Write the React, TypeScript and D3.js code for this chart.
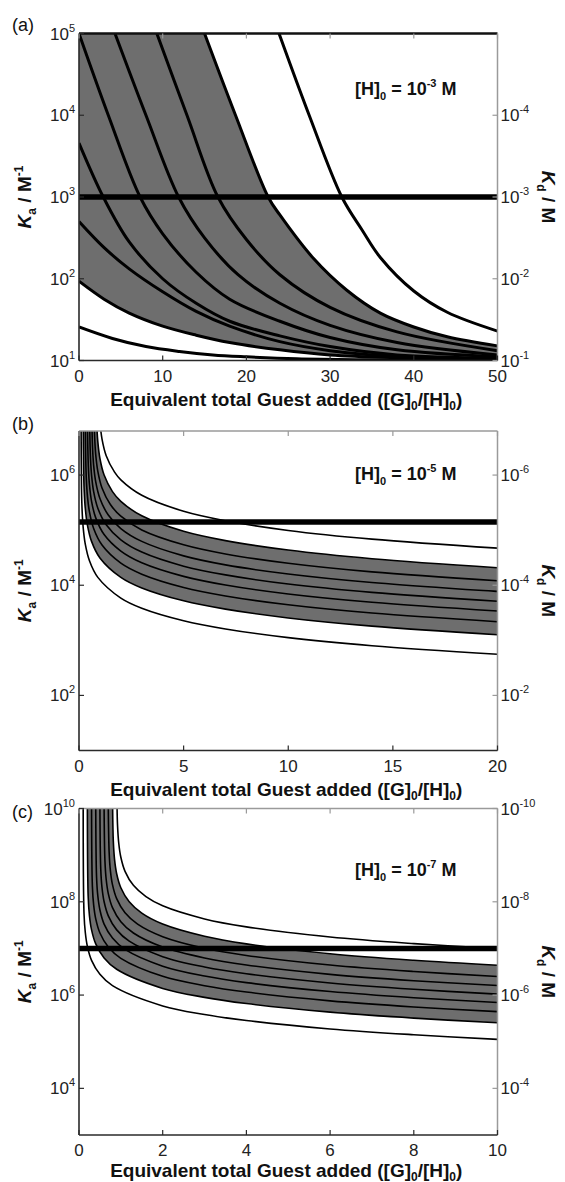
import React from 'react';
import * as d3 from 'd3';

type Pt = [number, number];

const FONT = "'Liberation Sans', Arial, Helvetica, sans-serif";
const PL = 79;
const PR = 497.5;

// ---------------- Panel (a): [H]0 = 1e-3 M ----------------
const aXTicks = [0, 10, 20, 30, 40, 50];
const aKaExp = [1, 2, 3, 4, 5];
const aKdExp = [-1, -2, -3, -4];
const aRefKa = 1e3;
const aW0: Pt[] = [[0, 25.7], [4, 18.6], [8, 14.8], [12, 12.9], [16, 11.7], [20, 11.1], [26, 10.5], [34, 10.2], [42, 10.07], [50, 10]];
const aGb: Pt[] = [[0, 93.3], [3, 56.2], [6, 38.0], [10, 26.3], [14, 20.4], [18, 16.6], [24, 13.5], [30, 11.7], [38, 10.8], [50, 10.2]];
const aL1: Pt[] = [[0, 501], [3, 240], [6, 132], [10, 69.2], [14, 39.8], [18, 26.3], [24, 17.0], [30, 13.2], [38, 11.2], [50, 10.5]];
const aL2: Pt[] = [[0, 4570], [2.9, 1000], [6, 282], [10, 100], [14, 50.1], [18, 30.2], [24, 20.0], [30, 14.8], [38, 11.7], [50, 10.7]];
const aL3: Pt[] = [[0, 1e5], [3.5, 1e4], [7.3, 1000], [10, 355], [14, 120], [18, 56.2], [24, 30.2], [30, 19.1], [38, 13.5], [50, 11.1]];
const aL4: Pt[] = [[4.3, 1e5], [8, 1e4], [11.9, 1000], [15, 316], [19, 112], [24, 50.1], [30, 26.9], [38, 16.6], [50, 11.7]];
const aL5: Pt[] = [[9.3, 1e5], [12.9, 1e4], [16.6, 1000], [20, 302], [24, 112], [30, 44.7], [38, 22.4], [50, 13.2]];
const aGt: Pt[] = [[15, 1e5], [18.7, 1e4], [22.6, 1000], [24, 603], [28, 178], [32, 72.4], [36, 38.0], [40, 25.7], [44, 19.5], [50, 15.1]];
const aW1: Pt[] = [[23.9, 1e5], [27.5, 1e4], [31.4, 1000], [33.8, 398], [36, 182], [40, 70.8], [44, 38.9], [50, 22.9]];

// ---------------- Panel (b): [H]0 = 1e-5 M ----------------
const bXTicks = [0, 5, 10, 15, 20];
const bKaExp = [2, 4, 6];
const bKdExp = [-2, -4, -6];
const bRefKa = 1.4e5;
const bP1: Pt[] = [[0.1, 1e7], [0.12, 5.56e5], [0.15, 2.22e5], [0.2, 1.11e5], [0.3, 5.56e4], [0.5, 2.78e4], [0.9, 1.39e4], [2, 5850], [3, 3830], [5, 2270], [7, 1610], [10, 1120], [14, 799], [20, 558]];
const bP2: Pt[] = [[0.2, 1e7], [0.22, 1.25e6], [0.25, 5e5], [0.3, 2.5e5], [0.4, 1.25e5], [0.6, 6.25e4], [1.0, 3.13e4], [2, 1.39e4], [3, 8930], [5, 5210], [7, 3680], [10, 2550], [14, 1810], [20, 1260]];
const bP3: Pt[] = [[0.3, 1e7], [0.32, 2.14e6], [0.35, 8.57e5], [0.4, 4.29e5], [0.5, 2.14e5], [0.7, 1.07e5], [1.1, 5.36e4], [2, 2.52e4], [3, 1.59e4], [5, 9120], [7, 6400], [10, 4420], [14, 3130], [20, 2180]];
const bP4: Pt[] = [[0.4, 1e7], [0.42, 3.33e6], [0.45, 1.33e6], [0.5, 6.67e5], [0.6, 3.33e5], [0.8, 1.67e5], [1.2, 8.33e4], [2, 4.17e4], [3, 2.56e4], [5, 1.45e4], [7, 1.01e4], [10, 6940], [14, 4900], [20, 3400]];
const bP5: Pt[] = [[0.51, 1e7], [0.52, 5e6], [0.55, 2e6], [0.6, 1e6], [0.7, 5e5], [0.9, 2.5e5], [1.3, 1.25e5], [2, 6.67e4], [3, 4e4], [5, 2.22e4], [7, 1.54e4], [10, 1.05e4], [14, 7410], [20, 5130]];
const bP6: Pt[] = [[0.615, 1e7], [0.62, 7.5e6], [0.65, 3e6], [0.7, 1.5e6], [0.8, 7.5e5], [1.0, 3.75e5], [1.4, 1.88e5], [2, 1.07e5], [3, 6.25e4], [5, 3.41e4], [7, 2.34e4], [10, 1.6e4], [14, 1.12e4], [20, 7730]];
const bP7: Pt[] = [[0.723, 1e7], [0.75, 4.67e6], [0.8, 2.33e6], [0.9, 1.17e6], [1.1, 5.83e5], [1.5, 2.92e5], [2, 1.79e5], [3, 1.01e5], [5, 5.43e4], [7, 3.7e4], [10, 2.51e4], [14, 1.75e4], [20, 1.21e4]];
const bP8: Pt[] = [[0.84, 1e7], [0.85, 8e6], [0.9, 4e6], [1.0, 2e6], [1.2, 1e6], [1.6, 5e5], [2, 3.33e5], [3, 1.82e5], [5, 9.52e4], [7, 6.45e4], [10, 4.35e4], [14, 3.03e4], [20, 2.08e4]];
const bP9: Pt[] = [[0.99, 1e7], [1.0, 9e6], [1.1, 4.5e6], [1.3, 2.25e6], [1.7, 1.13e6], [2, 8.18e5], [3, 4.29e5], [5, 2.2e5], [7, 1.48e5], [10, 9.89e4], [14, 6.87e4], [20, 4.71e4]];

// ---------------- Panel (c): [H]0 = 1e-7 M ----------------
const cXTicks = [0, 2, 4, 6, 8, 10];
const cKaExp = [4, 6, 8, 10];
const cKdExp = [-4, -6, -8, -10];
const cRefKa = 1e7;
const cP1: Pt[] = [[0.1, 1e10], [0.12, 5.56e7], [0.15, 2.22e7], [0.2, 1.11e7], [0.3, 5.56e6], [0.5, 2.78e6], [0.8, 1.59e6], [2, 5.85e5], [3, 3.83e5], [4, 2.85e5], [6, 1.88e5], [8, 1.41e5], [10, 1.12e5]];
const cP2: Pt[] = [[0.2, 1e10], [0.22, 1.25e8], [0.25, 5e7], [0.3, 2.5e7], [0.4, 1.25e7], [0.6, 6.25e6], [0.9, 3.57e6], [2, 1.39e6], [3, 8.93e5], [4, 6.58e5], [6, 4.31e5], [8, 3.21e5], [10, 2.55e5]];
const cP3: Pt[] = [[0.3, 1e10], [0.32, 2.14e8], [0.35, 8.57e7], [0.4, 4.29e7], [0.5, 2.14e7], [0.7, 1.07e7], [1.0, 6.12e6], [2, 2.52e6], [3, 1.59e6], [4, 1.16e6], [6, 7.52e5], [8, 5.57e5], [10, 4.42e5]];
const cP4: Pt[] = [[0.4, 1e10], [0.42, 3.33e8], [0.45, 1.33e8], [0.5, 6.67e7], [0.6, 3.33e7], [0.8, 1.67e7], [1.1, 9.52e6], [2, 4.17e6], [3, 2.56e6], [4, 1.85e6], [6, 1.19e6], [8, 8.77e5], [10, 6.94e5]];
const cP5: Pt[] = [[0.5, 1e10], [0.52, 5e8], [0.55, 2e8], [0.6, 1e8], [0.7, 5e7], [0.9, 2.5e7], [1.2, 1.43e7], [2, 6.67e6], [3, 4e6], [4, 2.86e6], [6, 1.82e6], [8, 1.33e6], [10, 1.05e6]];
const cP6: Pt[] = [[0.6, 1e10], [0.62, 7.5e8], [0.65, 3e8], [0.7, 1.5e8], [0.8, 7.5e7], [1.0, 3.75e7], [1.3, 2.14e7], [2, 1.07e7], [3, 6.25e6], [4, 4.41e6], [6, 2.78e6], [8, 2.03e6], [10, 1.6e6]];
const cP7: Pt[] = [[0.7, 1e10], [0.72, 1.17e9], [0.75, 4.67e8], [0.8, 2.33e8], [0.9, 1.17e8], [1.1, 5.83e7], [1.4, 3.33e7], [2, 1.79e7], [3, 1.01e7], [4, 7.07e6], [6, 4.4e6], [8, 3.2e6], [10, 2.51e6]];
const cP8: Pt[] = [[0.804, 1e10], [0.82, 2e9], [0.85, 8e8], [0.9, 4e8], [1.0, 2e8], [1.2, 1e8], [1.5, 5.71e7], [2, 3.33e7], [3, 1.82e7], [4, 1.25e7], [6, 7.69e6], [8, 5.56e6], [10, 4.35e6]];
const cP9: Pt[] = [[0.91, 1e10], [0.92, 4.5e9], [0.95, 1.8e9], [1.0, 9e8], [1.1, 4.5e8], [1.3, 2.25e8], [1.6, 1.29e8], [2, 8.18e7], [3, 4.29e7], [4, 2.9e7], [6, 1.76e7], [8, 1.27e7], [10, 9.89e6]];

interface PanelProps {
  id: string;
  top: number;
  bottom: number;
  xMax: number;
  xTicks: number[];
  yMin: number;
  yMax: number;
  kaExp: number[];
  kdExp: number[];
  curves: Pt[][];
  lower: Pt[];
  upper: Pt[];
  closeCorner: boolean;
  refKa: number;
  lw: number;
  letter: string;
  letterY: number;
  hExp: string;
  hY: number;
  topColor: string;
  topWidth: number;
  xLabelY: number;
}

function Panel(p: PanelProps) {
  const x = d3.scaleLinear().domain([0, p.xMax]).range([PL, PR]);
  const y = d3.scaleLog().domain([p.yMin, p.yMax]).range([p.bottom, p.top]);
  const line = d3
    .line<Pt>()
    .x((d) => x(d[0]))
    .y((d) => y(d[1]))
    .curve(d3.curveCatmullRom.alpha(0.5));
  const lowerPath = line(p.lower) || '';
  const upperRev = (line(p.upper.slice().reverse()) || '').slice(1);
  const corner = p.closeCorner ? `L${x(0)},${y(p.yMax)}` : '';
  const band = `${lowerPath}L${upperRev}${corner}Z`;
  const midY = (p.top + p.bottom) / 2;
  const clipId = `clip-${p.id}`;
  const axisDark = '#2a2a2a';
  const axisLight = '#9a9a9a';
  const tk = 5;
  return (
    <g>
      <defs>
        <clipPath id={clipId}>
          <rect x={PL} y={p.top} width={PR - PL} height={p.bottom - p.top} />
        </clipPath>
      </defs>
      <rect x={PL} y={p.top} width={PR - PL} height={p.bottom - p.top} fill="#ffffff" />
      <g clipPath={`url(#${clipId})`}>
        <path d={band} fill="#6e6e6e" stroke="none" />
        {p.curves.map((c, i) => (
          <path key={i} d={line(c) || ''} fill="none" stroke="#000" strokeWidth={p.lw} />
        ))}
        <line x1={PL} x2={PR} y1={y(p.refKa)} y2={y(p.refKa)} stroke="#000" strokeWidth={5.5} />
      </g>
      {/* frame */}
      <line x1={PL} x2={PR} y1={p.top} y2={p.top} stroke={p.topColor} strokeWidth={p.topWidth} />
      <line x1={PR} x2={PR} y1={p.top} y2={p.bottom} stroke={axisLight} strokeWidth={1.5} />
      <line x1={PL} x2={PR} y1={p.bottom} y2={p.bottom} stroke={axisDark} strokeWidth={1.6} />
      <line x1={PL} x2={PL} y1={p.top} y2={p.bottom} stroke={axisDark} strokeWidth={1.6} />
      {/* x ticks */}
      {p.xTicks.map((t) => (
        <g key={`xt${t}`}>
          <line x1={x(t)} x2={x(t)} y1={p.bottom} y2={p.bottom - tk} stroke={axisDark} strokeWidth={1.2} />
          <line x1={x(t)} x2={x(t)} y1={p.top} y2={p.top + tk} stroke={axisLight} strokeWidth={1.2} />
          <text x={x(t)} y={p.bottom + 21} textAnchor="middle" fontSize={17} fontFamily={FONT} fill="#222">
            {t}
          </text>
        </g>
      ))}
      {/* left Ka ticks */}
      {p.kaExp.map((e) => (
        <g key={`ka${e}`}>
          <line x1={PL} x2={PL + tk} y1={y(Math.pow(10, e))} y2={y(Math.pow(10, e))} stroke={axisDark} strokeWidth={1.2} />
          <text x={PL - 4} y={y(Math.pow(10, e)) + 6} textAnchor="end" fontSize={17} fontFamily={FONT} fill="#222">
            <tspan>10</tspan>
            <tspan dy={-8} fontSize={11}>{e}</tspan>
          </text>
        </g>
      ))}
      {/* right Kd ticks */}
      {p.kdExp.map((e) => (
        <g key={`kd${e}`}>
          <line x1={PR} x2={PR - tk} y1={y(Math.pow(10, -e))} y2={y(Math.pow(10, -e))} stroke={axisLight} strokeWidth={1.2} />
          <text x={PR + 3} y={y(Math.pow(10, -e)) + 6} textAnchor="start" fontSize={17} fontFamily={FONT} fill="#222">
            <tspan>10</tspan>
            <tspan dy={-8} fontSize={11}>{`${e}`}</tspan>
          </text>
        </g>
      ))}
      {/* x axis label */}
      <text x={(PL + PR) / 2 - 2} y={p.xLabelY} textAnchor="middle" fontSize={19} fontWeight="bold" fontFamily={FONT} fill="#111">
        <tspan>Equivalent total Guest added ([G]</tspan>
        <tspan dy={4} fontSize={12}>0</tspan>
        <tspan dy={-4}>/[H]</tspan>
        <tspan dy={4} fontSize={12}>0</tspan>
        <tspan dy={-4}>)</tspan>
      </text>
      {/* left y label */}
      <text transform={`translate(31,${midY}) rotate(-90)`} textAnchor="middle" fontSize={19} fontWeight="bold" fontFamily={FONT} fill="#111">
        <tspan fontStyle="italic">K</tspan>
        <tspan dy={5} fontSize={12}>a</tspan>
        <tspan dy={-5}> / M</tspan>
        <tspan dy={-8} fontSize={12}>-1</tspan>
      </text>
      {/* right y label */}
      <text transform={`translate(542,${midY}) rotate(90)`} textAnchor="middle" fontSize={19} fontWeight="bold" fontFamily={FONT} fill="#111">
        <tspan fontStyle="italic">K</tspan>
        <tspan dy={5} fontSize={12}>d</tspan>
        <tspan dy={-5}> / M</tspan>
      </text>
      {/* panel letter */}
      <text x={12} y={p.letterY} fontSize={18} fontFamily={FONT} fill="#111">
        {p.letter}
      </text>
      {/* concentration annotation */}
      <text x={355} y={p.hY} fontSize={18} fontWeight="bold" fontFamily={FONT} fill="#111">
        <tspan>[H]</tspan>
        <tspan dy={5} fontSize={11}>0</tspan>
        <tspan dy={-5}> = 10</tspan>
        <tspan dy={-8} fontSize={11}>{p.hExp}</tspan>
        <tspan dy={8}> M</tspan>
      </text>
    </g>
  );
}

export default function App() {
  return (
    <svg
      width={565}
      height={1182}
      viewBox="0 0 565 1182"
      style={{ position: 'absolute', left: 0, top: 0, background: '#fff' }}
    >
      <rect x={0} y={0} width={565} height={1182} fill="#fff" />
      <Panel
        id="a"
        top={33.5}
        bottom={360.5}
        xMax={50}
        xTicks={aXTicks}
        yMin={10}
        yMax={1e5}
        kaExp={aKaExp}
        kdExp={aKdExp}
        curves={[aW0, aGb, aL1, aL2, aL3, aL4, aL5, aGt, aW1]}
        lower={aGb}
        upper={aGt}
        closeCorner={true}
        refKa={aRefKa}
        lw={3}
        letter="(a)"
        letterY={31}
        hExp="-3"
        hY={95}
        topColor="#111"
        topWidth={2.5}
        xLabelY={406}
      />
      <Panel
        id="b"
        top={431}
        bottom={750.5}
        xMax={20}
        xTicks={bXTicks}
        yMin={10}
        yMax={Math.pow(10, 6.8)}
        kaExp={bKaExp}
        kdExp={bKdExp}
        curves={[bP1, bP2, bP3, bP4, bP5, bP6, bP7, bP8, bP9]}
        lower={bP2}
        upper={bP8}
        closeCorner={false}
        refKa={bRefKa}
        lw={1.6}
        letter="(b)"
        letterY={430}
        hExp="-5"
        hY={480}
        topColor="#9a9a9a"
        topWidth={1.5}
        xLabelY={796}
      />
      <Panel
        id="c"
        top={808.5}
        bottom={1135}
        xMax={10}
        xTicks={cXTicks}
        yMin={1e3}
        yMax={1e10}
        kaExp={cKaExp}
        kdExp={cKdExp}
        curves={[cP1, cP2, cP3, cP4, cP5, cP6, cP7, cP8, cP9]}
        lower={cP2}
        upper={cP8}
        closeCorner={false}
        refKa={cRefKa}
        lw={1.6}
        letter="(c)"
        letterY={818}
        hExp="-7"
        hY={876}
        topColor="#9a9a9a"
        topWidth={1.5}
        xLabelY={1176.5}
      />
    </svg>
  );
}
